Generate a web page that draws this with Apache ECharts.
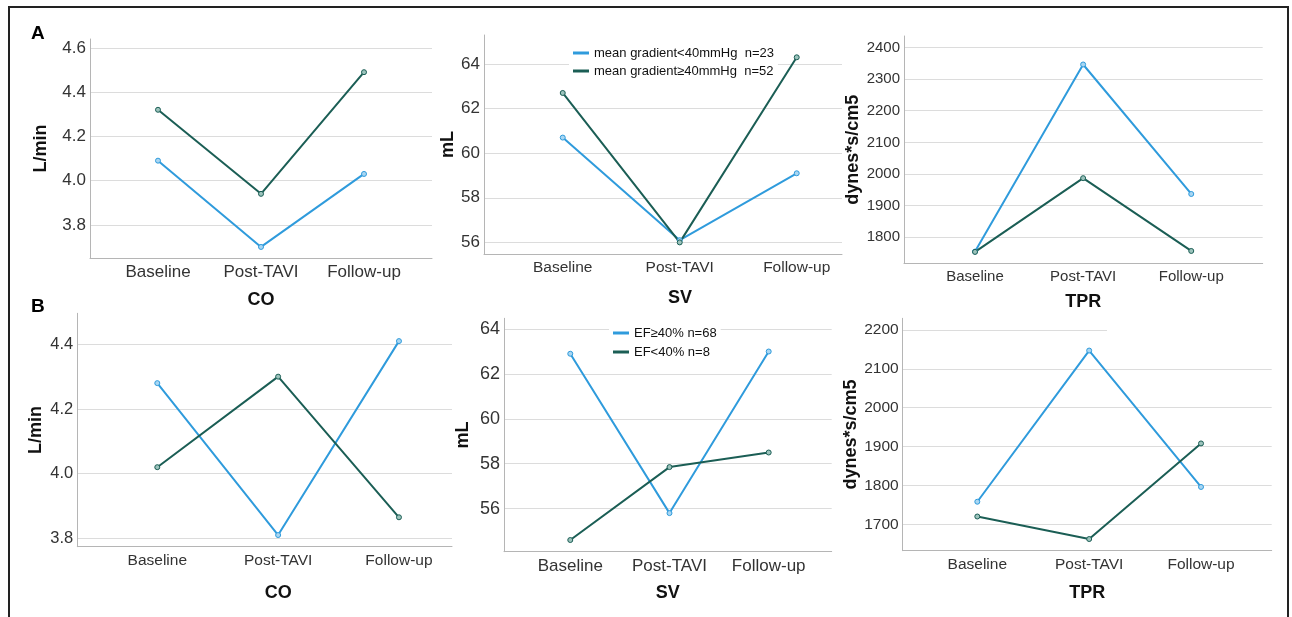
<!DOCTYPE html>
<html><head><meta charset="utf-8">
<script src="https://cdn.jsdelivr.net/npm/echarts@6/dist/echarts.min.js"></script>
<style>html,body{margin:0;padding:0;background:#fff}#c{width:1292px;height:617px}</style>
</head><body><div id="c"></div>
<script>
// ---- data ----
const categories = ['Baseline', 'Post-TAVI', 'Follow-up'];
const legendA = ['mean gradient<40mmHg  n=23', 'mean gradient\u226540mmHg  n=52'];
const legendB = ['EF\u226540% n=68', 'EF<40% n=8'];

// Panel A (mean gradient groups)
const coA_low  = [4.09, 3.70, 4.03];
const coA_high = [4.32, 3.94, 4.49];
const svA_low  = [60.7, 56.1, 59.1];
const svA_high = [62.7, 56.0, 64.3];
const tprA_low  = [1755, 2346, 1937];
const tprA_high = [1754, 1987, 1757];

// Panel B (EF groups)
const coB_hiEF  = [4.28, 3.81, 4.41];
const coB_loEF  = [4.02, 4.30, 3.865];
const svB_hiEF  = [62.9, 55.8, 63.0];
const svB_loEF  = [54.6, 57.85, 58.5];
const tprB_hiEF = [1758, 2147, 1796];
const tprB_loEF = [1720, 1662, 1908];

// tick labels
const coTicksA  = [3.8, 4.0, 4.2, 4.4, 4.6];
const svTicksA  = [56, 58, 60, 62, 64];
const tprTicksA = [1800, 1900, 2000, 2100, 2200, 2300, 2400];
const coTicksB  = [3.8, 4.0, 4.2, 4.4];
const svTicksB  = [56, 58, 60, 62, 64];
const tprTicksB = [1700, 1800, 1900, 2000, 2100, 2200];

const yNames = {co: 'L/min', sv: 'mL', tpr: 'dynes*s/cm5'};
const xNames = {co: 'CO', sv: 'SV', tpr: 'TPR'};

// ---- styling / layout ----
const BLUE = '#2F9BDC', GREEN = '#1B5E55';
const BLUE_FILL = '#A9D6F2', GREEN_FILL = '#9CC3BC';
const FF = '"Liberation Sans", Arial, sans-serif';

const panels = [
  {grid:{left:90, top:39, width:342, height:219}, x:[-0.66, 2.66], y:[3.65, 4.64], ticks:coTicksA, dec:1,
   yName:yNames.co, yGap:40, xName:xNames.co, xGap:33, xPad:0, xfs:17, yfs:17,
   s:[[legendA[0], coA_low, BLUE, BLUE_FILL], [legendA[1], coA_high, GREEN, GREEN_FILL]]},
  {grid:{left:484, top:35, width:358, height:219}, x:[-0.673, 2.387], y:[55.48, 65.3], ticks:svTicksA, dec:0,
   yName:yNames.sv, yGap:25, xName:xNames.sv, xGap:35, xPad:34, xfs:15.5, yfs:17,
   s:[[legendA[0], svA_low, BLUE, BLUE_FILL], [legendA[1], svA_high, GREEN, GREEN_FILL]]},
  {grid:{left:904, top:36, width:358.7, height:227.3}, x:[-0.657, 2.661], y:[1718, 2436], ticks:tprTicksA, dec:0,
   yName:yNames.tpr, yGap:42, xName:xNames.tpr, xGap:30, xPad:0, xfs:15, yfs:15,
   s:[[legendA[0], tprA_low, BLUE, BLUE_FILL], [legendA[1], tprA_high, GREEN, GREEN_FILL]]},
  {grid:{left:77.3, top:313.3, width:374.7, height:233.4}, x:[-0.662, 2.439], y:[3.774, 4.496], ticks:coTicksB, dec:1,
   yName:yNames.co, yGap:32, xName:xNames.co, xGap:37, xPad:27, xfs:15.5, yfs:16.5,
   s:[[legendB[0], coB_hiEF, BLUE, BLUE_FILL], [legendB[1], coB_loEF, GREEN, GREEN_FILL]]},
  {grid:{left:504, top:318.3, width:327.7, height:233.4}, x:[-0.668, 2.635], y:[54.08, 64.48], ticks:svTicksB, dec:0,
   yName:yNames.sv, yGap:32, xName:xNames.sv, xGap:32, xPad:0, xfs:17, yfs:18,
   s:[[legendB[0], svB_hiEF, BLUE, BLUE_FILL], [legendB[1], svB_loEF, GREEN, GREEN_FILL]]},
  {grid:{left:902.7, top:318.3, width:369, height:232.4}, x:[-0.667, 2.632], y:[1632, 2230], ticks:tprTicksB, dec:0,
   yName:yNames.tpr, yGap:42, xName:xNames.tpr, xGap:33, xPad:0, xfs:15.5, yfs:15.5,
   s:[[legendB[0], tprB_hiEF, BLUE, BLUE_FILL], [legendB[1], tprB_loEF, GREEN, GREEN_FILL]]}
];

const grid = [], xAxis = [], yAxis = [], series = [];
panels.forEach((p, i) => {
  grid.push(Object.assign({containLabel:false}, p.grid));
  xAxis.push({
    type:'value', gridIndex:i, min:p.x[0], max:p.x[1],
    name:p.xName, nameLocation:'middle', nameGap:p.xGap,
    nameTextStyle:{fontFamily:FF, fontSize:18, fontWeight:'bold', color:'#111', padding:[0,0,0,p.xPad]},
    axisLine:{show:true, onZero:false, lineStyle:{color:'#B5B5B5', width:1}},
    axisTick:{show:false, customValues:[0,1,2]},
    splitLine:{show:false},
    axisLabel:{customValues:[0,1,2], margin:6, color:'#333', fontFamily:FF, fontSize:p.xfs,
      formatter:v => categories[Math.round(v)] || ''}
  });
  yAxis.push({
    type:'value', gridIndex:i, min:p.y[0], max:p.y[1],
    name:p.yName, nameLocation:'middle', nameGap:p.yGap,
    nameTextStyle:{fontFamily:FF, fontSize:18, fontWeight:'bold', color:'#111'},
    axisLine:{show:true, onZero:false, lineStyle:{color:'#B5B5B5', width:1}},
    axisTick:{show:false, customValues:p.ticks},
    splitLine:{show:true, lineStyle:{color:'#DCDCDC', width:1}},
    axisLabel:{customValues:p.ticks, margin:4, color:'#333', fontFamily:FF, fontSize:p.yfs,
      formatter:v => v.toFixed(p.dec)}
  });
  p.s.forEach(([name, vals, col, fill]) => {
    series.push({
      type:'line', name, xAxisIndex:i, yAxisIndex:i,
      data: vals.map((v, k) => [k, v]),
      symbol:'circle', symbolSize:5, showSymbol:true,
      lineStyle:{color:col, width:2}, itemStyle:{color:fill, borderColor:col, borderWidth:1},
      emphasis:{disabled:true}, z:3
    });
  });
});

const legendCommon = {orient:'vertical', backgroundColor:'#fff', icon:'rect', itemWidth:16, itemHeight:3,
  itemGap:4, padding:[4,4,4,4], selectedMode:false,
  textStyle:{fontFamily:FF, fontSize:13, color:'#111', lineHeight:14}};
const legendItem = (n, k) => ({name:n, itemStyle:{color:[BLUE, GREEN][k], borderWidth:0}});

const option = {
  animation:false,
  backgroundColor:'#fff',
  grid, xAxis, yAxis, series,
  legend:[
    Object.assign({}, legendCommon, {left:569, top:42, data:legendA.map(legendItem)}),
    Object.assign({}, legendCommon, {left:609, top:322, itemGap:5, data:legendB.map(legendItem)})
  ],
  graphic:[
    {type:'rect', shape:{x:9, y:7, width:1279, height:630}, style:{fill:null, stroke:'#222', lineWidth:2}, z:100},
    {type:'text', left:31, top:24, style:{text:'A', font:'bold 19px "Liberation Sans", Arial', fill:'#000'}},
    {type:'text', left:31, top:297, style:{text:'B', font:'bold 19px "Liberation Sans", Arial', fill:'#000'}},
    {type:'rect', shape:{x:1107, y:327, width:170, height:6}, style:{fill:'#fff'}, z:50}
  ]
};
echarts.init(document.getElementById('c')).setOption(option);
</script></body></html>
